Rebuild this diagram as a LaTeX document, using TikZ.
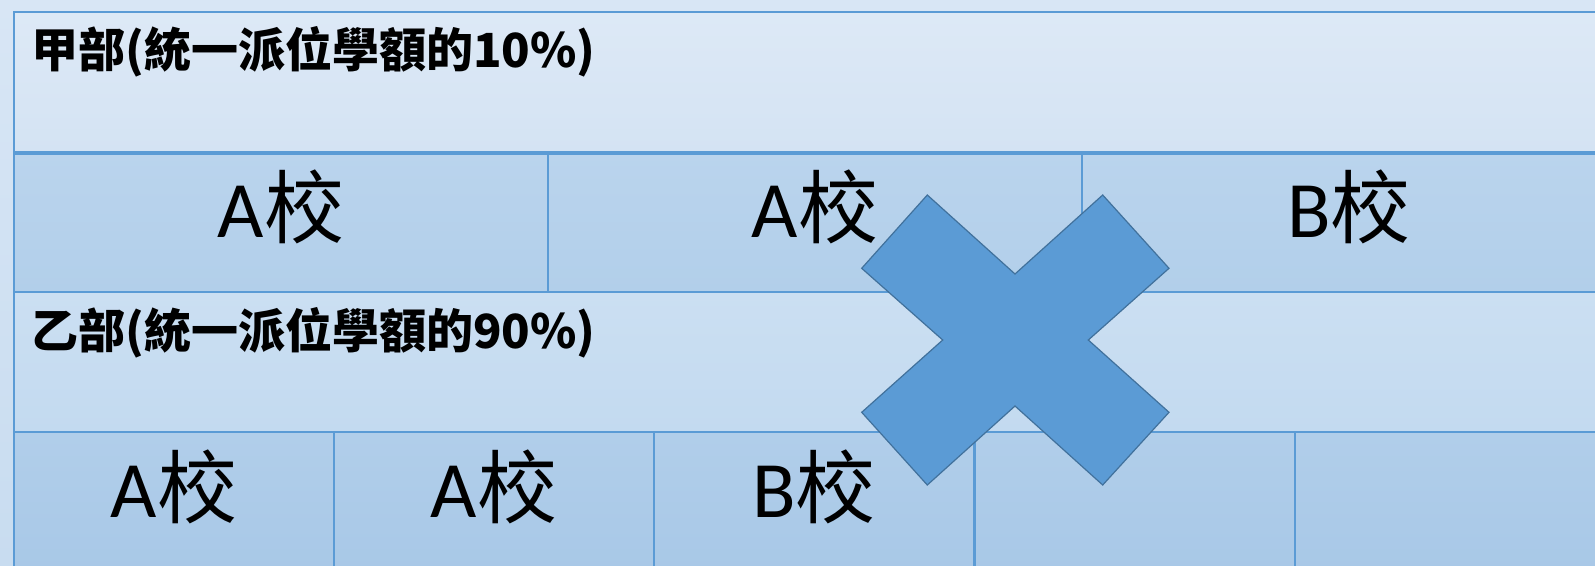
\documentclass[tikz,border=0pt]{standalone}
\usepackage{fontspec}
\setmainfont{Carlito}
\newfontfamily\zhfont{Noto Sans CJK TC}
\newcommand{\zh}[1]{{\zhfont #1}}
\usetikzlibrary{positioning}
\usepackage{xcolor}
\definecolor{gridline}{RGB}{91,155,213}
\definecolor{crossfill}{RGB}{91,155,213}
\definecolor{crossedge}{RGB}{65,113,156}

\begin{document}
\begin{tikzpicture}[x=1pt,y=-1pt]
      \tikzstyle{band} = [rectangle, draw=gridline, line width=2pt, anchor=north west, minimum width=1700pt, minimum height=140pt, inner sep=0pt]
      \tikzstyle{wideschool} = [band, minimum width=534pt, font=\fontsize{80}{96}\selectfont, text height=50pt, text depth=20pt, top color={rgb,255:red,186;green,212;blue,237}, bottom color={rgb,255:red,178;green,207;blue,234}]
      \tikzstyle{narrowschool} = [wideschool, minimum width=320pt, top color={rgb,255:red,177;green,206;blue,234}, bottom color={rgb,255:red,168;green,200;blue,231}]
      \tikzstyle{parttitle} = [anchor=base west, inner sep=0pt, font=\zhfont\bfseries\fontsize{47}{56}\selectfont]
      \tikzstyle{cross} = [fill=crossfill, draw=crossedge, line width=1.2pt, line join=miter]

      \clip (0,0) rectangle (1595,565);
      \shade[top color={rgb,255:red,216;green,230;blue,245}, bottom color={rgb,255:red,200;green,220;blue,240}] (0,0) rectangle (1595,565);

      % part A
      \node[band, top color={rgb,255:red,221;green,233;blue,246}, bottom color={rgb,255:red,212;green,227;blue,243}] (partA) at (13,11) {};
      \node[parttitle] (titleA) at (31,67) {甲部(統一派位學額的10\%)};
      \node[wideschool] (a1) at (13,151) {A\zh{校}};
      \node[wideschool] (a2) at (547,151) {A\zh{校}};
      \node[wideschool] (a3) at (1081,151) {B\zh{校}};
      \draw[gridline, line width=4pt] (partA.south west) -- (partA.south east);

      % part B
      \node[band, top color={rgb,255:red,203;green,223;blue,242}, bottom color={rgb,255:red,195;green,218;blue,240}] (partB) at (13,291) {};
      \node[parttitle] (titleB) at (31,348) {乙部(統一派位學額的90\%)};
      \node[narrowschool] (b1) at (13,431) {A\zh{校}};
      \node[narrowschool] (b2) at (333,431) {A\zh{校}};
      \node[narrowschool] (b3) at (653,431) {B\zh{校}};
      \node[narrowschool] (b4) at (974,431) {};
      \node[narrowschool] (b5) at (1294,431) {};

      % cross
      \filldraw[cross] (927.3,195) -- (1015,274) -- (1102.7,195) -- (1169,268.3) -- (1088.3,340) -- (1169,412.3)
        -- (1102.7,485) -- (1015,406) -- (927.3,485) -- (861.7,412.3) -- (942.7,340) -- (861.7,268.3) -- cycle;
\end{tikzpicture}
\end{document}
